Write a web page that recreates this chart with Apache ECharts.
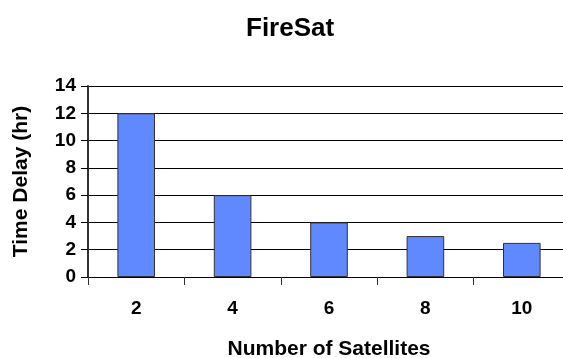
<!DOCTYPE html>
<html>
<head>
<meta charset="utf-8">
<script src="https://cdn.jsdelivr.net/npm/echarts@6/dist/echarts.min.js"></script>
<style>
html,body{margin:0;padding:0;background:#fff;}
#chart{width:563px;height:358px;}
</style>
</head>
<body>
<div id="chart"></div>
<script>
// Time delay versus constellation size
const satellites = ['2', '4', '6', '8', '10'];
const delayHours = [12, 6, 4, 3, 2.5];
const chartTitle = 'FireSat';
const xName = 'Number of Satellites';
const yName = 'Time Delay (hr)';

const font = 'Liberation Sans, Arial, sans-serif';
const chart = echarts.init(document.getElementById('chart'), null, { renderer: 'canvas' });
chart.setOption({
  backgroundColor: '#ffffff',
  animation: false,
  title: {
    text: chartTitle,
    left: 241,
    top: 11,
    textStyle: { fontFamily: font, fontSize: 26, fontWeight: 'bold', color: '#000' }
  },
  grid: { left: 88, top: 86, width: 482, bottom: 81, containLabel: false, outerBoundsMode: 'none' },
  xAxis: {
    type: 'category',
    data: satellites,
    name: xName,
    nameLocation: 'middle',
    nameGap: 62,
    nameTextStyle: { fontFamily: font, fontSize: 21, fontWeight: 'bold', color: '#000' },
    axisLine: { show: true, lineStyle: { color: '#000', width: 1 } },
    axisTick: { show: true, alignWithLabel: false, length: 8, lineStyle: { color: '#333', width: 1 } },
    axisLabel: { margin: 22, fontFamily: font, fontSize: 19, fontWeight: 'bold', color: '#000' },
    splitLine: { show: false }
  },
  yAxis: {
    type: 'value',
    min: 0,
    max: 14,
    interval: 2,
    name: yName,
    nameLocation: 'middle',
    nameRotate: 90,
    nameGap: 56,
    nameTextStyle: { fontFamily: font, fontSize: 21, fontWeight: 'bold', color: '#000' },
    axisLine: { show: true, lineStyle: { color: '#333', width: 2 } },
    axisTick: { show: true, length: 7, lineStyle: { color: '#000', width: 1 } },
    axisLabel: { margin: 12, fontFamily: font, fontSize: 19, fontWeight: 'bold', color: '#000' },
    splitLine: { show: true, lineStyle: { color: '#000', width: 1 } }
  },
  series: [{
    type: 'bar',
    data: delayHours,
    barWidth: '39%',
    itemStyle: { color: '#6088FF', borderColor: '#333', borderWidth: 1 }
  }]
});
</script>
</body>
</html>
